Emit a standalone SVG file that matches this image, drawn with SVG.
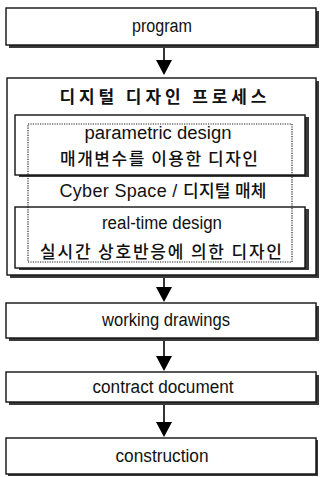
<svg xmlns="http://www.w3.org/2000/svg" width="322" height="477" viewBox="0 0 322 477">
  <defs>
    <path id="head" d="M-8,0 L8,0 L0,15 Z" fill="#000"/>
  </defs>
  <style>
    .box { fill: #fff; stroke: #111; stroke-width: 1.4; }
    .shadow { fill: #3a3a3a; }
    .dots { fill: none; stroke: #222; stroke-width: 1.2; stroke-dasharray: 1.2 1.2; }
    .lat { font-family: "Liberation Sans", Arial, sans-serif; font-size: 18px; fill: #111; text-anchor: middle; }
    .kor { font-family: "Noto Sans CJK KR", "Noto Sans", sans-serif; font-size: 17px; font-weight: 500; fill: #111; text-anchor: middle; }
    .title { font-weight: bold; }
    .link { stroke: #000; stroke-width: 1.6; fill: none; }
  </style>

  <!-- program -->
  <g id="program">
    <rect class="shadow" x="9" y="11" width="310" height="37"/>
    <rect class="box" x="6" y="8" width="310" height="37"/>
    <text class="lat" x="162" y="32" textLength="60" lengthAdjust="spacingAndGlyphs">program</text>
  </g>

  <!-- digital design process container -->
  <g id="digital-process">
    <rect class="shadow" x="10" y="81" width="309" height="197"/>
    <rect class="box" x="7" y="78" width="309" height="197"/>
    <text class="kor title" x="163" y="103" textLength="207">디지털 디자인 프로세스</text>
  </g>

  <g id="parametric-design">
    <rect class="shadow" x="19" y="117" width="290" height="60"/>
    <rect class="box" x="15" y="115" width="290" height="60"/>
    <text class="lat" x="158" y="139" textLength="147" lengthAdjust="spacingAndGlyphs">parametric design</text>
    <text class="kor" x="159" y="165" textLength="198">매개변수를 이용한 디자인</text>
  </g>

  <g id="cyber-space">
    <text class="kor" x="163" y="197" textLength="207"><tspan font-family="Liberation Sans, Arial, sans-serif" font-size="18" font-weight="normal">Cyber Space / </tspan>디지털 매체</text>
  </g>

  <g id="real-time-design">
    <rect class="shadow" x="19" y="209" width="290" height="61"/>
    <rect class="box" x="15" y="207" width="290" height="61"/>
    <text class="lat" x="162" y="229" textLength="120" lengthAdjust="spacingAndGlyphs">real-time design</text>
    <text class="kor" x="161" y="258" textLength="242">실시간 상호반응에 의한 디자인</text>
  </g>

  <!-- dotted frame spanning both design modes -->
  <rect id="media-frame" class="dots" x="28" y="124" width="264" height="138"/>

  <g id="working-drawings">
    <rect class="shadow" x="9" y="306" width="310" height="35"/>
    <rect class="box" x="6" y="303" width="310" height="35"/>
    <text class="lat" x="166" y="326" textLength="128" lengthAdjust="spacingAndGlyphs">working drawings</text>
  </g>

  <g id="contract-document">
    <rect class="shadow" x="9" y="375" width="310" height="30"/>
    <rect class="box" x="6" y="372" width="310" height="30"/>
    <text class="lat" x="163" y="393" textLength="141" lengthAdjust="spacingAndGlyphs">contract document</text>
  </g>

  <g id="construction">
    <rect class="shadow" x="8" y="440" width="310" height="36"/>
    <rect class="box" x="6" y="438" width="310" height="36"/>
    <text class="lat" x="162" y="462" textLength="93" lengthAdjust="spacingAndGlyphs">construction</text>
  </g>

  <!-- connectors -->
  <g id="connectors">
    <line class="link" x1="164" y1="48" x2="164" y2="61"/>
    <use href="#head" x="164" y="60"/>
    <line class="link" x1="164" y1="278" x2="164" y2="288"/>
    <use href="#head" x="164" y="287"/>
    <line class="link" x1="164" y1="341" x2="164" y2="357"/>
    <use href="#head" x="164" y="356"/>
    <line class="link" x1="164" y1="405" x2="164" y2="423"/>
    <use href="#head" x="164" y="422"/>
  </g>
</svg>
